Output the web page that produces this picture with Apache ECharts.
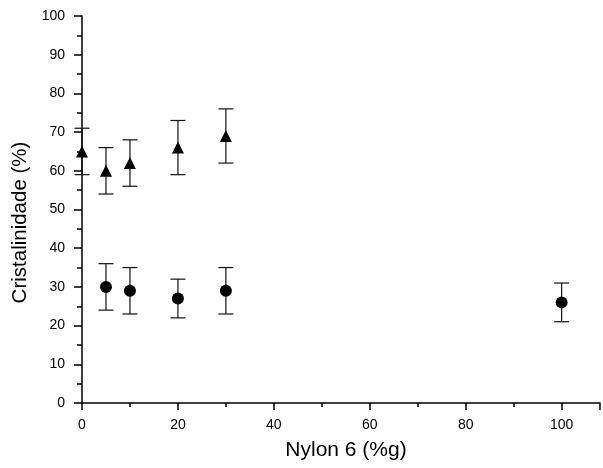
<!DOCTYPE html>
<html><head><meta charset="utf-8">
<script src="https://cdn.jsdelivr.net/npm/echarts@6/dist/echarts.min.js"></script>
<style>html,body{margin:0;padding:0;background:#fff}#c{width:603px;height:468px}</style>
</head><body><div id="c"></div>
<script>
// Triangles series
const triX = [0, 5, 10, 20, 30];
const triY = [65, 60, 62, 66, 69];
const triLow = [59, 54, 56, 59, 62];
const triHigh = [71, 66, 68, 73, 76];
// Circles series
const cirX = [5, 10, 20, 30, 100];
const cirY = [30, 29, 27, 29, 26];
const cirLow = [24, 23, 22, 23, 21];
const cirHigh = [36, 35, 32, 35, 31];

const xTitle = 'Nylon 6 (%g)';
const yTitle = 'Cristalinidade (%)';

function errData(xs, lo, hi) { return xs.map((x, i) => [x, lo[i], hi[i]]); }
function errRender(params, api) {
  const x = api.value(0);
  const p1 = api.coord([x, api.value(1)]);
  const p2 = api.coord([x, api.value(2)]);
  const w = 7.5;
  const st = { stroke: '#111', lineWidth: 1.2 };
  return { type: 'group', children: [
    { type: 'line', shape: { x1: p1[0], y1: p1[1], x2: p2[0], y2: p2[1] }, style: st },
    { type: 'line', shape: { x1: p1[0] - w, y1: p1[1], x2: p1[0] + w, y2: p1[1] }, style: st },
    { type: 'line', shape: { x1: p2[0] - w, y1: p2[1], x2: p2[0] + w, y2: p2[1] }, style: st }
  ]};
}

const chart = echarts.init(document.getElementById('c'), null, { renderer: 'canvas' });
const font = 'Liberation Sans, Arial, sans-serif';
chart.setOption({
  animation: false,
  backgroundColor: '#fff',
  grid: { left: 82, top: 16, right: 2, bottom: 65, containLabel: false },
  xAxis: {
    type: 'value', min: 0, max: 108, interval: 20,
    name: xTitle, nameLocation: 'middle', nameGap: 37,
    nameTextStyle: { fontFamily: font, fontSize: 21, color: '#000', padding: [0, 0, 0, 10] },
    axisLine: { show: true, onZero: false, lineStyle: { color: '#000', width: 1.5 } },
    axisTick: { show: true, length: 7, lineStyle: { color: '#000', width: 1.5 } },
    minorTick: { show: true, splitNumber: 2, length: 4, lineStyle: { color: '#000', width: 1.5 } },
    axisLabel: { fontFamily: font, fontSize: 14, color: '#000', margin: 15,
      formatter: v => (v % 20 === 0 && v <= 100) ? String(v) : '' },
    splitLine: { show: false }
  },
  yAxis: {
    type: 'value', min: 0, max: 100, interval: 10,
    name: yTitle, nameLocation: 'middle', nameGap: 47,
    nameTextStyle: { fontFamily: font, fontSize: 20.5, color: '#000', padding: [0, 26, 0, 0] },
    axisLine: { show: true, lineStyle: { color: '#000', width: 1.5 } },
    axisTick: { show: true, length: 8, lineStyle: { color: '#000', width: 1.5 } },
    minorTick: { show: true, splitNumber: 2, length: 5, lineStyle: { color: '#000', width: 1.5 } },
    axisLabel: { fontFamily: font, fontSize: 14, color: '#000', margin: 17 },
    splitLine: { show: false }
  },
  series: [
    { type: 'custom', renderItem: errRender, data: errData(triX, triLow, triHigh), z: 1 },
    { type: 'custom', renderItem: errRender, data: errData(cirX, cirLow, cirHigh), z: 1 },
    { type: 'scatter', symbol: 'triangle', symbolSize: 12, itemStyle: { color: '#000', opacity: 1 },
      data: triX.map((x, i) => [x, triY[i]]), z: 3 },
    { type: 'scatter', symbol: 'circle', symbolSize: 12, itemStyle: { color: '#000', opacity: 1 },
      data: cirX.map((x, i) => [x, cirY[i]]), z: 3 }
  ]
});
</script></body></html>
